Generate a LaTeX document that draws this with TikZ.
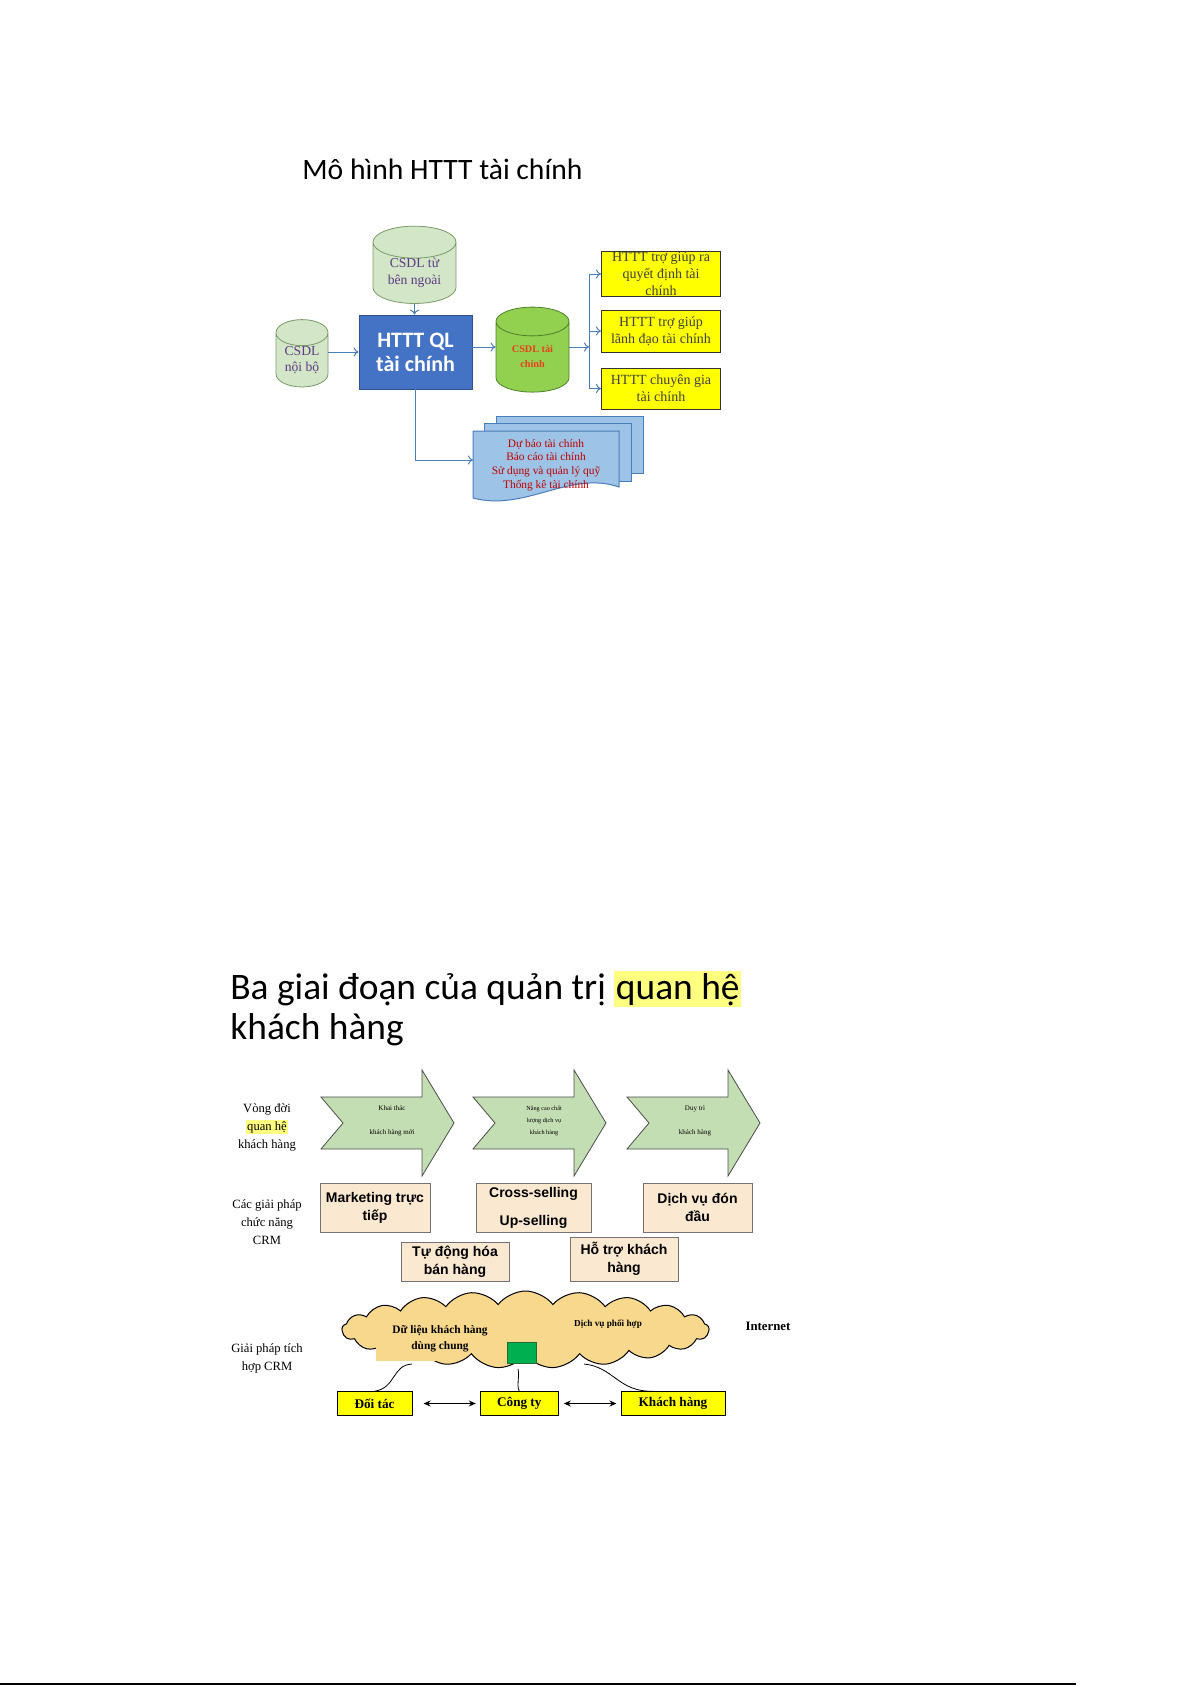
\documentclass[tikz,border=0pt]{standalone}
\usepackage{fontspec}
\setmainfont{Liberation Serif}
\setsansfont{Liberation Sans}
\newfontfamily\calibri{Carlito}
\usetikzlibrary{arrows.meta, positioning, shapes.geometric, shapes.symbols, calc}
\definecolor{mBlue}{HTML}{4472C4}
\definecolor{mBlueEdge}{HTML}{2F528F}
\definecolor{mLine}{HTML}{4A7EBB}
\definecolor{mPaleGreen}{HTML}{D3E6C8}
\definecolor{mGreenEdge}{HTML}{7A9A68}
\definecolor{mLime}{HTML}{92D050}
\definecolor{mLimeEdge}{HTML}{4F7F2A}
\definecolor{mPurple}{HTML}{5E3A84}
\definecolor{mOrangeRed}{HTML}{E8401C}
\definecolor{mDarkRed}{HTML}{C00000}
\definecolor{mDocBlue}{HTML}{9DC3E6}
\definecolor{mYellow}{HTML}{FFFF00}
\definecolor{mHilite}{HTML}{FFFF80}
\definecolor{mArrowGreen}{HTML}{C4DEB3}
\definecolor{mBeige}{HTML}{FBE8D0}
\definecolor{mSand}{HTML}{F8D88C}
\definecolor{mDbGreen}{HTML}{00B050}
\definecolor{mDbEdge}{HTML}{1E6B34}
\setlength{\fboxsep}{0.8pt}

\begin{document}
\begin{tikzpicture}[x=0.5pt, y=-0.5pt,
    db/.style={cylinder, shape border rotate=90, draw=mGreenEdge, fill=mPaleGreen,
      inner sep=0pt, align=center, text=mPurple, font=\fontsize{6.8}{8.3}\selectfont},
    flow/.style={draw=mLine, line width=0.5pt, -{To[length=2.5pt,width=4.5pt]}},
    ybox/.style={draw=black!80, line width=0.5pt, fill=mYellow, minimum width=59.5pt,
      inner sep=0pt},
    ytext/.style={align=center, text=black!75, font=\fontsize{7}{8.5}\selectfont},
    docsheet/.style={draw=mLine, line width=0.5pt, fill=mDocBlue},
    chev/.style={draw=black!70, line width=0.4pt, fill=mArrowGreen},
    sidelbl/.style={align=center, font=\fontsize{6.3}{9}\selectfont},
    fbox/.style={draw=black!55, line width=0.5pt, fill=mBeige, inner sep=0pt, align=center,
      font=\sffamily\bfseries\fontsize{7}{9}\selectfont},
    pbox/.style={draw=black, line width=0.5pt, fill=mYellow, inner sep=0pt,
      minimum height=11.75pt, font=\bfseries\fontsize{6.6}{8}\selectfont},
    wire/.style={draw=black, line width=0.4pt},
    twoway/.style={draw=black, line width=0.5pt,
      {Stealth[length=3.5pt,width=3pt]}-{Stealth[length=3.5pt,width=3pt]}}]
  \useasboundingbox (0,0) rectangle (1192,1685);

  % --- Mo hinh HTTT tai chinh
  \node[anchor=base west, inner sep=0pt, font=\calibri\fontsize{14.8}{17}\selectfont]
    (titletop) at (302,180) {Mô hình HTTT tài chính};

  \node[db, minimum width=41.5pt, minimum height=31pt, aspect=0.6] (ngoai) at (414.5,273) {CSDL từ\\bên ngoài};
  \node[db, minimum width=26pt, minimum height=32.5pt, aspect=0.75] (noibo) at (302,360) {CSDL\\nội bộ};
  \node[draw=mBlueEdge, fill=mBlue, minimum width=56.5pt, minimum height=37pt, inner sep=0pt,
    align=center, text=white, font=\calibri\bfseries\fontsize{11}{12}\selectfont]
    (htttql) at (415.5,352) {HTTT QL\\tài chính};
  \node[cylinder, shape border rotate=90, draw=mLimeEdge, fill=mLime, inner sep=0pt,
    minimum width=36.5pt, minimum height=42.5pt, aspect=0.7, align=center, text=mOrangeRed,
    font=\bfseries\fontsize{5.1}{7.5}\selectfont] (taichinh) at (532.5,357) {CSDL tài\\chính};

  \foreach \n/\y/\h/\t in {quyetdinh/274/22/{HTTT trợ giúp ra\\quyết định tài\\chính},
                           lanhdao/331/21/{HTTT trợ giúp\\lãnh đạo tài chính},
                           chuyengia/388.5/20.5/{HTTT chuyên gia\\tài chính}} {
    \node[ybox, minimum height=\h pt] (\n) at (661,\y) {};
    \node[ytext] at (\n) {\t};
  }

  \foreach \l/\t/\r/\b in {496/416/643/473, 484/423/631/481} {
    \draw[docsheet] (\l,\t) rectangle (\r,\b);
  }
  \draw[docsheet] (473,431) -- (619,431) -- (619,487)
    .. controls (570,470) and (525,512) .. (473,498) -- cycle;
  \node[align=center, text=mDarkRed, font=\fontsize{5.7}{6.8}\selectfont] (docs) at (546,465)
    {Dự báo tài chính\\Báo cáo tài chính\\Sử dụng và quản lý quỹ\\Thống kê tài chính};

  \coordinate (split) at (589,347);
  \coordinate (docin) at (473,460);
  \draw[flow] (ngoai) -- (ngoai |- htttql.north);
  \draw[flow] (noibo.east |- htttql.west) -- (htttql.west);
  \draw[flow] (htttql.east |- split) -- (taichinh.west |- split);
  \draw[flow] (taichinh.east |- split) -- (split);
  \draw[mLine, line width=0.5pt] (split |- quyetdinh.west) -- (split |- chuyengia.west);
  \foreach \n in {quyetdinh, lanhdao, chuyengia}
    \draw[flow] (split |- \n.west) -- (\n.west);
  \draw[flow] (htttql.south) |- (docin);

  % --- Ba giai doan cua quan tri quan he khach hang
  \node[anchor=base west, inner sep=0pt, font=\calibri\fontsize{18.7}{20}\selectfont]
    (titlecrm) at (230,999) {Ba giai đoạn của quản trị \colorbox{mHilite}{quan hệ}};
  \node[anchor=base west, inner sep=0pt, font=\calibri\fontsize{18.7}{20}\selectfont]
    (titlecrmb) at (230,1039) {khách hàng};

  \node[sidelbl] (lifecycle) at (267,1127) {Vòng đời\\\colorbox{mHilite}{quan hệ}\\khách hàng};
  \node[sidelbl] (funcs) at (267,1222) {Các giải pháp\\chức năng\\CRM};
  \node[sidelbl] (integ) at (267,1358) {Giải pháp tích\\hợp CRM};

  \foreach \x in {321, 473, 627} {
    \draw[chev] (\x,1097) -- ++(101,0) -- ++(0,-27) -- ++(32,53) -- ++(-32,53)
      -- ++(0,-27) -- ++(-101,0) -- ++(22,-26) -- cycle;
  }
  \node[align=center, font=\fontsize{3.5}{12}\selectfont] (stage1) at (392,1121) {Khai thác\\khách hàng mới};
  \node[align=center, font=\fontsize{3.1}{6}\selectfont] (stage2) at (544,1121) {Nâng cao chất\\lượng dịch vụ\\khách hàng};
  \node[align=center, font=\fontsize{3.5}{12}\selectfont] (stage3) at (695,1121) {Duy trì\\khách hàng};

  \node[fbox, minimum width=55pt, minimum height=24.5pt] (mkt) at (375,1207.5) {Marketing trực\\tiếp};
  \node[fbox, minimum width=57.5pt, minimum height=24.5pt] (cross) at (533.5,1207.5) {Cross-selling\\[5pt]Up-selling};
  \node[fbox, minimum width=54.5pt, minimum height=24.5pt] (proact) at (697.5,1207.5) {Dịch vụ đón\\đầu};
  \node[fbox, minimum width=54pt, minimum height=19.5pt] (auto) at (455,1261.5) {Tự động hóa\\bán hàng};
  \node[fbox, minimum width=54pt, minimum height=22pt] (support) at (624,1259) {Hỗ trợ khách\\hàng};

  \node[cloud, cloud puffs=21, cloud puff arc=105, cloud ignores aspect, draw=black,
    line width=0.5pt, fill=mSand, minimum width=183.5pt, minimum height=38.5pt, inner sep=0pt]
    (cloud) at (525.5,1329.5) {};
  \fill[mSand] (376,1336) rectangle (444,1361);
  \node[align=center, font=\bfseries\fontsize{5.7}{8.2}\selectfont] (shared) at (440,1339)
    {Dữ liệu khách hàng\\dùng chung};
  \node[font=\bfseries\fontsize{4.6}{6}\selectfont] (coop) at (608,1324) {Dịch vụ phối hợp};
  \node[font=\bfseries\fontsize{6.4}{8}\selectfont] (internet) at (768,1326) {Internet};
  \node[cylinder, shape border rotate=90, draw=mDbEdge, inner sep=0pt,
    cylinder uses custom fill, cylinder body fill=mDbGreen, cylinder end fill=mDbGreen!55,
    minimum width=14.5pt, minimum height=10.5pt, aspect=1.0] (dbmini) at (521.5,1353) {};

  \node[pbox, minimum width=37.5pt] (doitac) at (374.5,1403.5) {Đối tác};
  \node[pbox, minimum width=39pt] (congty) at (519.3,1403.5) {Công ty};
  \node[pbox, minimum width=52pt] (khachhang) at (673,1403.5) {Khách hàng};

  \coordinate (cl1) at (412,1364);
  \coordinate (cl2) at (518,1369);
  \coordinate (cl3) at (584,1364);
  \draw[wire] (cl1) .. controls (392,1365) and (396,1388) .. (doitac.north);
  \draw[wire] (cl2) .. controls (520,1378) and (516,1384) .. (congty.north);
  \draw[wire] (cl3) .. controls (614,1367) and (618,1392) .. ([xshift=-10pt]khachhang.north);
  \draw[twoway, shorten <=5.5pt, shorten >=2pt] (doitac.east) -- (congty.west);
  \draw[twoway, shorten <=2.5pt, shorten >=2pt] (congty.east) -- (khachhang.west);

  \draw[line width=1pt] (0,1684) -- (1076,1684);
\end{tikzpicture}
\end{document}
